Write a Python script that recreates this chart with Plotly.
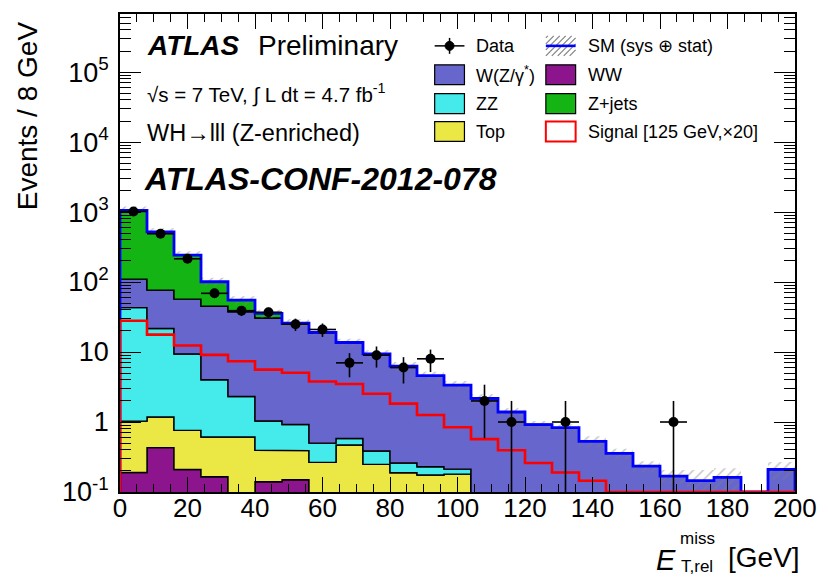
import math
import plotly.graph_objects as go

# ---------------------------------------------------------------------------
# E_T,rel^miss distribution, WH -> lll (Z-enriched), 8 GeV bins from 0 to 200
# ---------------------------------------------------------------------------
bin_edges = list(range(0, 201, 8))

# background components (events per bin)
ww = [0.19, 0.43, 0.21, 0.165, 0.0, 0.14, 0.15, 0, 0, 0, 0, 0, 0,
      0, 0, 0, 0, 0, 0, 0, 0, 0, 0, 0, 0]
top = [0.84, 0.75, 0.55, 0.445, 0.61, 0.255, 0.24, 0.265, 0.47, 0.248, 0.188, 0.175, 0.18,
       0, 0, 0, 0, 0, 0, 0, 0, 0, 0, 0, 0]
zz = [42.0, 20.5, 8.6, 3.4, 1.7, 0.64, 0.53, 0.235, 0.11, 0.138, 0.072, 0.054, 0.032,
      0, 0, 0, 0, 0, 0, 0, 0, 0, 0, 0, 0]
wz = [67.0, 55.0, 47.6, 41.0, 35.3, 29.6, 24.0, 18.3, 13.1, 9.0, 6.04, 4.37, 3.15,
      2.17, 1.39, 0.92, 0.83, 0.53, 0.356, 0.234, 0.169, 0.145, 0.162, 0.0, 0.21]
zjets = [950.0, 444.0, 186.0, 56.0, 17.4, 5.0, 1.0, 0.3, 0, 0, 0, 0, 0,
         0, 0, 0, 0, 0, 0, 0, 0, 0, 0, 0, 0]

# relative (sys + stat) uncertainty on the total SM prediction
sm_rel_err = [0.13, 0.13, 0.13, 0.14, 0.14, 0.13, 0.13, 0.13, 0.13, 0.13, 0.14, 0.14, 0.15,
              0.15, 0.13, 0.12, 0.12, 0.18, 0.17, 0.18, 0.22, 0.42, 0.35, 0.0, 0.28]

# signal, m_H = 125 GeV, scaled by 20
signal_x20 = [28.0, 17.7, 12.4, 9.1, 7.4, 5.6, 5.05, 3.8, 3.5, 2.54, 1.83, 1.26, 0.84,
              0.57, 0.395, 0.26, 0.19, 0.145, 0, 0, 0, 0, 0, 0, 0]

# observed events
data = [1020, 490, 215, 69, 39, 37, 25, 21, 7, 9, 6, 8, 0,
        2, 1, 0, 1, 0, 0, 0, 1, 0, 0, 0, 0]

y_tick_vals = [0.1, 1, 10, 100, 1000, 1e4, 1e5]
y_tick_text = ["10<sup>-1</sup>", "1", "10", "10<sup>2</sup>", "10<sup>3</sup>",
               "10<sup>4</sup>", "10<sup>5</sup>"]
x_tick_vals = list(range(0, 201, 20))

# ---------------------------------------------------------------------------
FONT = "Liberation Sans, Arial, Helvetica, sans-serif"
C_WZ = "#6666CC"
C_ZZ = "#45EAEA"
C_TOP = "#EBE845"
C_WW = "#8C148C"
C_ZJ = "#14B414"

Y_MIN, Y_MAX = 0.1, 10 ** 5.83
FILL_FLOOR = 1e-3  # below the visible range; fills are clipped by the axes

W, H = 829, 578
L, R, T, B = 120, 29, 12, 86

nb = len(bin_edges) - 1


def cumulate(*comps):
    out, run = [], [0.0] * nb
    for c in comps:
        run = [a + b for a, b in zip(run, c)]
        out.append(run)
    return out


def step_upper(vals, floor):
    xs, ys = [], []
    for i in range(nb):
        v = max(vals[i], floor)
        xs += [bin_edges[i], bin_edges[i + 1]]
        ys += [v, v]
    return xs, ys


def step_outline(vals, floor):
    xs, ys = step_upper(vals, floor)
    return [bin_edges[0]] + xs + [bin_edges[-1]], [floor] + ys + [floor]


def band_polygon(upper, lower, floor):
    ux, uy = step_upper(upper, floor)
    lx, ly = step_upper(lower, floor)
    return ux + lx[::-1] + [ux[0]], uy + ly[::-1] + [uy[0]]


fig = go.Figure()

# stacked backgrounds: WW, Top, ZZ, W(Z/gamma*), Z+jets
stack = cumulate(ww, top, zz, wz, zjets)
colors = [C_WW, C_TOP, C_ZZ, C_WZ, C_ZJ]
prev = [0.0] * nb
for cum, col in zip(stack, colors):
    px_, py_ = band_polygon(cum, prev, FILL_FLOOR)
    fig.add_trace(go.Scatter(x=px_, y=py_, mode="lines", fill="toself",
                             fillcolor=col, line=dict(color="black", width=1.4),
                             hoverinfo="skip", showlegend=False))
    prev = cum

total = stack[-1]

# hatched uncertainty band around the SM total
hi = [t * (1 + e) if t > 0 else 0 for t, e in zip(total, sm_rel_err)]
lo = [t * (1 - e) if t > 0 else 0 for t, e in zip(total, sm_rel_err)]
segs_x, segs_y = [], []
for i in range(nb):
    if total[i] <= 0:
        continue
    x0, x1 = bin_edges[i], bin_edges[i + 1]
    segs_x += [x0, x1, x1, x0, x0, None]
    segs_y += [lo[i], lo[i], hi[i], hi[i], lo[i], None]
fig.add_trace(go.Scatter(x=segs_x, y=segs_y, mode="lines", fill="toself",
                         fillcolor="rgba(0,0,0,0)", line=dict(width=0),
                         fillpattern=dict(shape="/", fgcolor="#808080",
                                          bgcolor="rgba(0,0,0,0)", size=7, solidity=0.2),
                         hoverinfo="skip", showlegend=False))

# SM total outline
tx, ty = step_outline(total, Y_MIN)
fig.add_trace(go.Scatter(x=tx, y=ty, mode="lines",
                         line=dict(color="#0000FF", width=2.8),
                         hoverinfo="skip", showlegend=False))

# signal x20 outline
sx, sy = step_outline(signal_x20, Y_MIN)
fig.add_trace(go.Scatter(x=sx, y=sy, mode="lines",
                         line=dict(color="#FF0000", width=2.6),
                         hoverinfo="skip", showlegend=False))

# data with Poisson (sqrt N) errors and bin-width horizontal bars
centers = [(bin_edges[i] + bin_edges[i + 1]) / 2 for i in range(nb)]
ex, ey = [], []
dx, dy = [], []
for i in range(nb):
    n = data[i]
    if n <= 0:
        continue
    s = math.sqrt(n)
    ex += [bin_edges[i], bin_edges[i + 1], None, centers[i], centers[i], None]
    ey += [n, n, None, max(n - s, Y_MIN * 0.5), n + s, None]
    dx.append(centers[i])
    dy.append(n)
fig.add_trace(go.Scatter(x=ex, y=ey, mode="lines", line=dict(color="black", width=1.6),
                         hoverinfo="skip", showlegend=False))
fig.add_trace(go.Scatter(x=dx, y=dy, mode="markers",
                         marker=dict(color="black", size=10, symbol="circle"),
                         showlegend=False))

# invisible trace carrying the top/right tick axes
fig.add_trace(go.Scatter(x=[100], y=[1], xaxis="x2", yaxis="y2", mode="markers",
                         marker=dict(opacity=0), hoverinfo="skip", showlegend=False))

# ---------------------------------------------------------------------------
def pxp(xp):
    return (xp - L) / (W - L - R)


def pyp(yp):
    return (H - B - yp) / (H - T - B)


annotations = []
shapes = []


def text(x, y, s, size, xanchor="left", yanchor="middle", angle=0):
    annotations.append(dict(x=pxp(x), y=pyp(y), xref="paper", yref="paper", text=s,
                            showarrow=False, xanchor=xanchor, yanchor=yanchor,
                            textangle=angle, borderpad=0,
                            font=dict(family=FONT, size=size, color="black")))


# labels inside the frame
text(146, 44, "<b><i>ATLAS</i></b>", 28)
text(258, 44, "Preliminary", 28)
text(146, 92, "√s = 7 TeV, ∫ L dt = 4.7 fb<sup>-1</sup>", 20.5)
text(146, 131, "WH→lll (Z-enriched)", 23.5)
text(143, 178, "<b><i>ATLAS-CONF-2012-078</i></b>", 32)

# legend
rows = [44, 73, 102, 130]
c1x0, c1x1, c1t = 437, 467, 478
c2x0, c2x1, c2t = 549, 579, 590
LEG = 18


def box(x0, x1, yc, fill, line="black", lw=1.2):
    shapes.append(dict(type="rect", xref="paper", yref="paper",
                       x0=pxp(x0), x1=pxp(x1), y0=pyp(yc + 10), y1=pyp(yc - 10),
                       fillcolor=fill, line=dict(color=line, width=lw)))


def seg(x0, y0, x1, y1, color, width):
    shapes.append(dict(type="line", xref="paper", yref="paper",
                       x0=pxp(x0), y0=pyp(y0), x1=pxp(x1), y1=pyp(y1),
                       line=dict(color=color, width=width)))


# Data entry
seg(c1x0, rows[0], c1x1, rows[0], "black", 1.5)
seg((c1x0 + c1x1) / 2, rows[0] - 8, (c1x0 + c1x1) / 2, rows[0] + 8, "black", 1.5)
shapes.append(dict(type="circle", xref="paper", yref="paper",
                   x0=pxp(452 - 4.5), x1=pxp(452 + 4.5), y0=pyp(rows[0] + 4.5), y1=pyp(rows[0] - 4.5),
                   fillcolor="black", line=dict(color="black", width=1)))
text(c1t, rows[0], "Data", LEG)

box(c1x0, c1x1, rows[1], C_WZ)
text(c1t, rows[1], "W(Z/γ<sup>*</sup>)", LEG)
box(c1x0, c1x1, rows[2], C_ZZ)
text(c1t, rows[2], "ZZ", LEG)
box(c1x0, c1x1, rows[3], C_TOP)
text(c1t, rows[3], "Top", LEG)

# SM entry: hatched box with the total-line colour
yt, yb = rows[0] - 10, rows[0] + 10
for k in range(-3, 8):
    xs0 = c2x0 + k * 6
    s0 = max(0, c2x0 - xs0)
    s1 = min(20, c2x1 - xs0)
    if s1 > s0:
        seg(xs0 + s0, yb - s0, xs0 + s1, yb - s1, "#808080", 1.2)
seg(c2x0, rows[0], c2x1, rows[0], "#0000FF", 2.6)
text(c2t, rows[0], "SM (sys ⊕ stat)", LEG)

box(c2x0, c2x1, rows[1], C_WW)
text(c2t, rows[1], "WW", LEG)
box(c2x0, c2x1, rows[2], C_ZJ)
text(c2t, rows[2], "Z+jets", LEG)
box(c2x0, c2x1, rows[3], "white", line="#FF0000", lw=2)
text(c2t, rows[3], "Signal [125 GeV,×20]", LEG)

# axis titles
text(27, 114, "Events / 8 GeV", 28, xanchor="center", yanchor="middle", angle=-90)
text(681, 560, "<i>E</i>", 29, xanchor="right")
text(683, 539, "miss", 17)
text(684, 567, "T,rel", 17)
text(806, 558, "[GeV]", 28, xanchor="right")

fig.update_layout(
    width=W, height=H,
    margin=dict(l=L, r=R, t=T, b=B),
    paper_bgcolor="white", plot_bgcolor="white",
    font=dict(family=FONT, size=26, color="black"),
    showlegend=False,
    annotations=annotations,
    shapes=shapes,
)

minor_y = [m * 10 ** e for e in range(-1, 6) for m in range(2, 10)]
y_range = [math.log10(Y_MIN), math.log10(Y_MAX)]
x_minor = dict(ticks="inside", ticklen=8, tickwidth=1.1, tickcolor="black", dtick=5, tick0=0)
y_minor = dict(ticks="inside", ticklen=11, tickwidth=1.1, tickcolor="black",
               tickmode="array", tickvals=minor_y)

fig.update_layout(
    xaxis=dict(
        range=[0, 200], showgrid=False, zeroline=False,
        showline=True, linecolor="black", linewidth=1.5, mirror=True,
        ticks="inside", ticklen=15, tickwidth=1.3, tickcolor="black",
        tickvals=x_tick_vals, ticktext=[str(v) for v in x_tick_vals],
        tickfont=dict(family=FONT, size=26), ticklabelstandoff=-8,
        minor=x_minor,
    ),
    yaxis=dict(
        type="log", range=y_range, showgrid=False, zeroline=False,
        showline=True, linecolor="black", linewidth=1.5, mirror=True,
        ticks="inside", ticklen=21, tickwidth=1.3, tickcolor="black",
        tickvals=y_tick_vals, ticktext=y_tick_text,
        tickfont=dict(family=FONT, size=27), ticklabelstandoff=4,
        minor=y_minor,
    ),
    xaxis2=dict(
        overlaying="x", side="top", anchor="y", range=[0, 200],
        showgrid=False, zeroline=False, showline=False, showticklabels=False,
        ticks="inside", ticklen=15, tickwidth=1.3, tickcolor="black",
        tickvals=x_tick_vals, minor=x_minor,
    ),
    yaxis2=dict(
        overlaying="y", side="right", anchor="x", type="log", range=y_range,
        showgrid=False, zeroline=False, showline=False, showticklabels=False,
        ticks="inside", ticklen=21, tickwidth=1.3, tickcolor="black",
        tickvals=y_tick_vals, minor=y_minor,
    ),
)

fig.write_html("out.html")
